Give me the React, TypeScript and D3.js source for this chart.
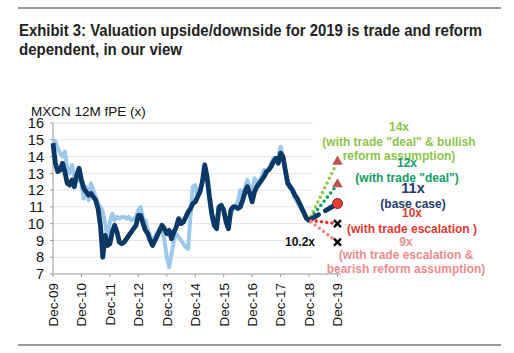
import React from "react";
import * as d3 from "d3";

// Monthly values, index 0 = Dec-09 ... 108 = Dec-18
const darkSeries = [
  14.8, 13.6, 13.1, 13.2, 13.6, 13.1, 12.4, 12.3, 12.6, 12.2, 12.9, 13.3,
  12.6, 12.1, 11.9, 11.7, 11.8, 11.6, 11.4, 10.9, 9.9, 8.0, 9.3, 8.7,
  8.8, 9.5, 9.9, 9.5, 8.9, 8.8, 8.9, 9.1, 9.3, 9.5, 9.7, 9.9,
  10.5, 10.5, 10.0, 9.6, 9.4, 9.0, 8.7, 9.0, 9.3, 9.6, 9.9, 9.7,
  9.4, 9.6, 9.1, 9.5, 9.8, 10.3, 10.0, 10.1, 10.4, 10.7, 10.9, 11.2,
  11.3, 11.6, 11.9, 12.5, 13.5, 12.8, 11.6, 10.6, 9.9, 9.7, 11.0, 11.1,
  10.8, 10.1, 9.7, 10.8, 11.0, 11.0, 10.9, 11.0, 11.4, 11.9, 12.2, 11.8,
  11.3, 11.9, 12.2, 12.4, 12.6, 12.8, 13.1, 13.2, 13.4, 13.7, 13.9, 13.6,
  14.2, 14.0, 13.2, 12.4, 12.2, 12.0, 11.7, 11.5, 11.2, 10.9, 10.6, 10.3,
  10.2,
];
const lightSeries = [
  15.0, 14.9, 14.5, 14.2, 14.0, 14.3, 13.3, 13.0, 13.5, 12.8, 12.9, 12.6,
  12.4, 11.5, 12.2, 11.4, 12.4, 12.0, 11.6, 11.2, 11.0, 10.7, 10.0, 9.1,
  10.1, 10.6, 10.2, 10.4, 10.3, 10.4, 10.4, 10.3, 10.4, 10.2, 10.3, 10.4,
  10.8, 11.0, 10.3, 10.2, 9.6, 9.3, 8.9, 9.2, 9.5, 9.6, 9.6, 9.0,
  8.0, 7.4, 8.2, 9.0, 9.4, 9.2, 9.0, 8.8, 8.6, 8.5, 10.5, 12.2,
  12.3, 11.6, 12.0, 12.5, 13.4, 12.6, 11.3, 10.3, 10.0, 10.2, 11.0, 10.9,
  10.9, 10.2, 10.0, 10.6, 11.0, 11.1, 11.3, 12.0, 11.5, 12.2, 12.6, 12.2,
  11.9, 12.7, 12.5, 12.5, 12.8, 13.2, 13.0, 13.3, 13.6, 13.9, 13.8, 13.9,
  14.6, 14.0, 13.0, 12.5, 12.3, 12.0, 11.5, 11.3, 11.0, 10.8, 10.5, 10.3,
  10.2,
];

const xTickLabels = ["Dec-09", "Dec-10", "Dec-11", "Dec-12", "Dec-13", "Dec-14", "Dec-15", "Dec-16", "Dec-17", "Dec-18", "Dec-19"];
const yTicks = [7, 8, 9, 10, 11, 12, 13, 14, 15, 16];

const startValue = 10.2; // Dec-18
const scenarioNames = ["bullish", "deal", "base", "escalation", "bearish"];
const scenarioEnd = [13.7, 12.35, 11.2, 10.0, 8.9]; // Dec-19
const scenarioColors = ["#92c94e", "#16a06a", "#0c3866", "#e2372e", "#f08a8a"];

const annotations = [
  { lines: ["14x", "(with trade \"deal\" & bullish", "reform assumption)"], color: "#8cc54a", x: 399, y: [131, 146, 160] },
  { lines: ["12x", "(with trade \"deal\")"], color: "#139c66", x: 407, y: [167, 182] },
  { lines: ["(base case)"], color: "#1f3a68", x: 413, y: [208] },
  { lines: ["10x", "(with trade escalation )"], color: "#df3a32", x: 412, y: [217, 233] },
  { lines: ["9x", "(with trade escalation &", "bearish reform assumption)"], color: "#ee8c8c", x: 406, y: [246, 259, 273] },
];

export default function App() {
  const W = 514, H = 353;
  const x = d3.scaleLinear().domain([0, 120]).range([53, 337.5]);
  const y = d3.scaleLinear().domain([7, 16]).range([274, 123]);
  const line = d3.line<number>().x((_, i) => x(i)).y((d) => y(d));
  const font = "'Liberation Sans', Arial, sans-serif";
  const xTicks = xTickLabels.map((_, i) => i * 12);

  const crossSize = 3.5;
  const tri = d3.symbol().type(d3.symbolTriangle).size(48)();

  return (
    <svg width={W} height={H} style={{ position: "absolute", left: 0, top: 0 }} fontFamily={font}>
      <rect width={W} height={H} fill="#fff" />
      <line x1={18} x2={501} y1={8} y2={8} stroke="#777" strokeWidth={1.5} />
      <line x1={18} x2={501} y1={345} y2={345} stroke="#777" strokeWidth={1.5} />
      <text x={19} y={36} fontWeight="bold" fontSize={17} fill="#222" textLength={463} lengthAdjust="spacingAndGlyphs">
        Exhibit 3: Valuation upside/downside for 2019 is trade and reform
      </text>
      <text x={19} y={55} fontWeight="bold" fontSize={17} fill="#222" textLength={163} lengthAdjust="spacingAndGlyphs">
        dependent, in our view
      </text>

      <text x={31} y={116} fontSize={13.5} fill="#111">MXCN 12M fPE (x)</text>

      {yTicks.filter((t) => t > 7).map((t) => (
        <line key={"g" + t} x1={x(0)} x2={313} y1={y(t)} y2={y(t)} stroke="#e4e4e4" strokeWidth={1} />
      ))}
      {yTicks.map((t) => (
        <g key={"yt" + t}>
          <line x1={x(0) - 3} x2={x(0)} y1={y(t)} y2={y(t)} stroke="#999" />
          <text x={44} y={y(t)} dy="0.36em" textAnchor="end" fontSize={14.5} fill="#111">{t}</text>
        </g>
      ))}
      <line x1={x(0)} x2={x(0)} y1={y(16)} y2={y(7)} stroke="#999" />
      <line x1={x(0)} x2={341} y1={y(7)} y2={y(7)} stroke="#999" />
      {xTicks.map((m, i) => (
        <g key={"xt" + m}>
          <line x1={x(m)} x2={x(m)} y1={y(7)} y2={y(7) + 3} stroke="#999" />
          <text
            transform={`translate(${x(m)},${y(7) + 9}) rotate(-90)`}
            textAnchor="end"
            dy="0.36em"
            fontSize={13.5}
            fill="#111"
          >
            {xTickLabels[i]}
          </text>
        </g>
      ))}

      <path d={line(lightSeries) || ""} fill="none" stroke="#9ec8ea" strokeWidth={4} strokeLinejoin="round" />
      <path d={line(darkSeries) || ""} fill="none" stroke="#0c3866" strokeWidth={4.8} strokeLinejoin="round" />

      {scenarioEnd.map((v, i) =>
        scenarioNames[i] === "base" ? (
          <line
            key={"s" + i}
            x1={x(108)} y1={y(startValue)} x2={x(120)} y2={y(v)}
            stroke={scenarioColors[i]} strokeWidth={4.8} strokeDasharray="11,8" strokeLinecap="round"
          />
        ) : (
          <line
            key={"s" + i}
            x1={x(108.8)} y1={y(startValue + (v - startValue) * 0.8 / 12)} x2={x(119)} y2={y(startValue + (v - startValue) * 11 / 12)}
            stroke={scenarioColors[i]} strokeWidth={3.6} strokeDasharray="0,5.3" strokeLinecap="round"
          />
        )
      )}

      {/* markers */}
      <path d={tri || ""} transform={`translate(${x(120)},${y(scenarioEnd[0])})`} fill="#c0504d" />
      <path d={tri || ""} transform={`translate(${x(120)},${y(scenarioEnd[1])})`} fill="#c0504d" />
      <circle cx={x(120)} cy={y(scenarioEnd[2])} r={5} fill="#e8412c" stroke="#6a2a2a" strokeWidth={1} />
      {[scenarioEnd[3], scenarioEnd[4]].map((v, i) => (
        <g key={"x" + i} stroke="#000" strokeWidth={2.4}>
          <line x1={x(120) - crossSize} x2={x(120) + crossSize} y1={y(v) - crossSize} y2={y(v) + crossSize} />
          <line x1={x(120) - crossSize} x2={x(120) + crossSize} y1={y(v) + crossSize} y2={y(v) - crossSize} />
        </g>
      ))}

      <text x={300} y={246} textAnchor="middle" fontWeight="bold" fontSize={12} fill="#111">10.2x</text>
      <text x={413} y={193} textAnchor="middle" fontWeight="bold" fontSize={14.5} fill="#1f3a68">11x</text>

      {annotations.map((a, i) => (
        <g key={"a" + i}>
          {a.lines.map((l, j) => (
            <text key={j} x={a.x} y={a.y[j]} textAnchor="middle" fontWeight="bold" fontSize={12} fill={a.color}>{l}</text>
          ))}
        </g>
      ))}
    </svg>
  );
}
